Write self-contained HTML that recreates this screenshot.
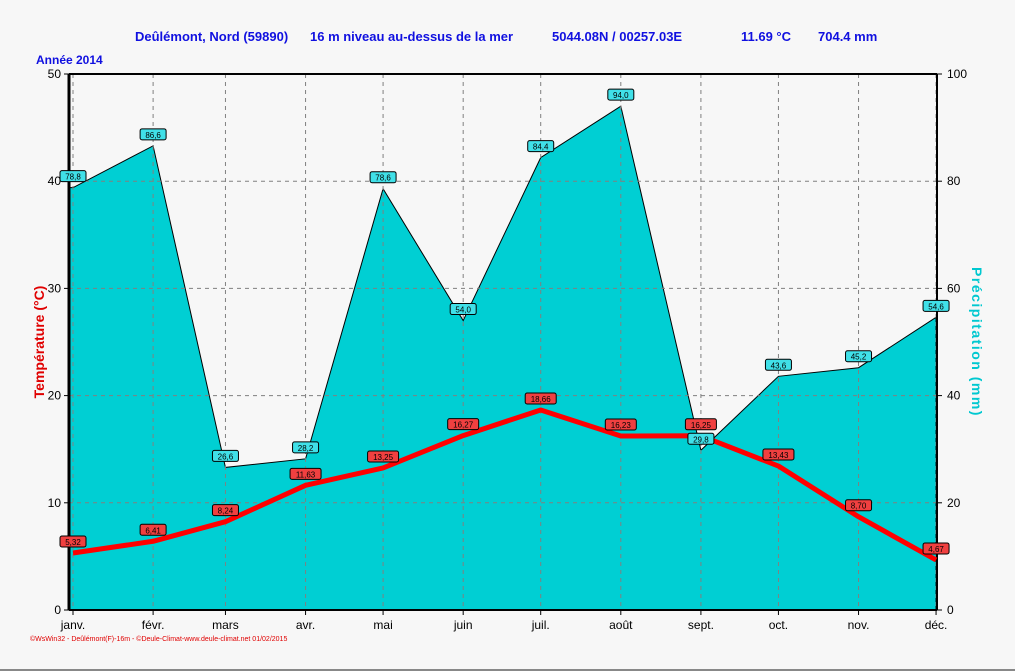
<!DOCTYPE html>
<html><head><meta charset="utf-8"><style>
body{margin:0;background:#f7f7f7;}
svg{display:block;font-family:"Liberation Sans",Arial,sans-serif;}
</style></head><body>
<svg id="chart" width="1015" height="671">
<rect x="0" y="0" width="1015" height="671" fill="#f7f7f7"/>
<line x1="0" y1="670" x2="1015" y2="670" stroke="#888" stroke-width="2"/>
<text x="135" y="41" font-size="13" font-weight="bold" fill="#1010e0">Deûlémont, Nord (59890)</text>
<text x="310" y="41" font-size="13" font-weight="bold" fill="#1010e0">16 m niveau au-dessus de la mer</text>
<text x="552" y="41" font-size="13" font-weight="bold" fill="#1010e0">5044.08N / 00257.03E</text>
<text x="741" y="41" font-size="13" font-weight="bold" fill="#1010e0">11.69 °C</text>
<text x="818" y="41" font-size="13" font-weight="bold" fill="#1010e0">704.4 mm</text>
<text x="36" y="64" font-size="12" font-weight="bold" fill="#1010e0">Année  2014</text>
<text transform="translate(44,342) rotate(-90)" text-anchor="middle" font-size="14" font-weight="bold" fill="#e00000">Température  (°C)</text>
<text transform="translate(972,342) rotate(90)" text-anchor="middle" font-size="14" font-weight="bold" fill="#00c8d0" letter-spacing="1.5">Précipitation  (mm)</text>
<text x="30" y="641" font-size="7" fill="#e00000">©WsWin32 - Deûlémont(F)-16m - ©Deule-Climat-www.deule-climat.net  01/02/2015</text>
<g id="g"></g>
</svg>
<script>
const months=["janv.","févr.","mars","avr.","mai","juin","juil.","août","sept.","oct.","nov.","déc."];
const monthDays=[0,31,59,90,120,151,181,212,243,273,304,334];
const temps=[5.32,6.41,8.24,11.63,13.25,16.27,18.66,16.23,16.25,13.43,8.70,4.67];
const precip=[78.8,86.6,26.6,28.2,78.6,54.0,84.4,94.0,29.8,43.6,45.2,54.6];
const tempTicks=[0,10,20,30,40,50];
const precTicks=[0,20,40,60,80,100];
const NS="http://www.w3.org/2000/svg";
const g=document.getElementById('g');
const L=69,R=937,T=74,B=610;
const xS=d=>73+d*2.584;
const yT=v=>B-(v/50)*(B-T);
const yP=v=>B-(v/100)*(B-T);
function mk(tag,a,parent){const e=document.createElementNS(NS,tag);for(const k in a)e.setAttribute(k,a[k]);(parent||g).appendChild(e);return e;}
const fmt=v=>v.toFixed(v>=20&&precip.includes(v)?1:2).replace('.',',');
// precipitation area
let d=`M${L},${B} L${L},${yP(precip[0])}`;
precip.forEach((v,i)=>{d+=` L${xS(monthDays[i])},${yP(v)}`;});
d+=` L${xS(monthDays[11])},${B} Z`;
const area=mk('path',{d:d,fill:'#00cfd3',stroke:'#000','stroke-width':1});


// grid
months.forEach((m,i)=>{const x=xS(monthDays[i]);
 const gl=mk('line',{x1:x,y1:T,x2:x,y2:B,stroke:'#808080','stroke-dasharray':'4,4'});
 
 
 const tk=mk('line',{x1:x,y1:B,x2:x,y2:B+5,stroke:'#000'});
 const t=mk('text',{x:x,y:B+19,'font-size':12,'text-anchor':'middle',fill:'#000'});t.textContent=m;
 
 
});
tempTicks.forEach((v,i)=>{const y=yT(v);
 if(v>0&&v<50){const gl=mk('line',{x1:L,y1:y,x2:R,y2:y,stroke:'#808080','stroke-dasharray':'4,4'});
 
 }
 mk('line',{x1:L-5,y1:y,x2:L,y2:y,stroke:'#000'});
 const t=mk('text',{x:L-8,y:y+4,'font-size':12,'text-anchor':'end',fill:'#000'});t.textContent=v;
 
 
 const pv=precTicks[i];const yp=yP(pv);
 mk('line',{x1:R,y1:yp,x2:R+5,y2:yp,stroke:'#000'});
 const t2=mk('text',{x:R+10,y:yp+4,'font-size':12,fill:'#000'});t2.textContent=pv;
 
 
});
mk('line',{x1:L,y1:T,x2:R,y2:T,stroke:'#000','stroke-width':2});
mk('line',{x1:L,y1:T,x2:L,y2:B,stroke:'#000','stroke-width':3});
mk('line',{x1:R,y1:T,x2:R,y2:B,stroke:'#000','stroke-width':2});
mk('line',{x1:L,y1:B,x2:R,y2:B,stroke:'#000','stroke-width':2});
// temperature line
const tl=mk('polyline',{points:temps.map((v,i)=>xS(monthDays[i])+','+yT(v)).join(' '),fill:'none',stroke:'#ff0000','stroke-width':5,'stroke-linejoin':'round'});


// labels
function label(x,y,txt,fill,name){
 const w=txt.length*5+6;
 const r=mk('rect',{x:x-w/2,y:y-17,width:w,height:11,rx:2,fill:fill,stroke:'#000','stroke-width':1});
 
 
 const t=mk('text',{x:x,y:y-8,'font-size':8,'text-anchor':'middle',fill:'#000'});t.textContent=txt;
 
 
}
precip.forEach((v,i)=>label(xS(monthDays[i]),yP(v),v.toFixed(1).replace('.',','),'#40e0e8','precip-value-label'));
temps.forEach((v,i)=>label(xS(monthDays[i]),yT(v),v.toFixed(2).replace('.',','),'#f04040','temp-value-label'));
</script>
</body></html>
